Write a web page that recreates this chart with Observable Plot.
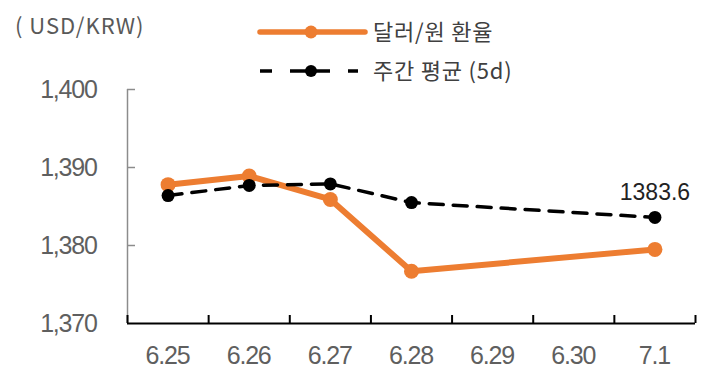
<!DOCTYPE html>
<html>
<head>
<meta charset="utf-8">
<script src="https://cdn.jsdelivr.net/npm/d3@7"></script>
<script src="https://cdn.jsdelivr.net/npm/@observablehq/plot@0.6"></script>
<style>
  html, body { margin: 0; padding: 0; background: #fff; }
  #wrap { position: relative; width: 708px; height: 381px; overflow: hidden; }
  #unit { position: absolute; left: 15px; top: 9px; font-family: "Noto Sans CJK KR", "Noto Sans", sans-serif; font-size: 22px; letter-spacing: 1px; color: #595959; white-space: pre; line-height: 30px; }
  #legend { position: absolute; left: 0; top: 0; }
  svg .tick-label text { letter-spacing: -1.2px; }
</style>
</head>
<body>
<div id="wrap"></div>
<script>
// ---- data ----
const dates = ["6.25", "6.26", "6.27", "6.28", "6.29", "6.30", "7.1"];
const tradeDates = ["6.25", "6.26", "6.27", "6.28", "7.1"];
const rate = [1387.8, 1388.9, 1385.9, 1376.7, 1379.5];      // 달러/원 환율
const avg5d = [1386.4, 1387.7, 1387.9, 1385.5, 1383.6];     // 주간 평균 (5d)
const yTicks = [1370, 1380, 1390, 1400];
const seriesNames = ["달러/원 환율", "주간 평균 (5d)"];
const unitLabel = "( USD/KRW)";
const lastLabel = "1383.6";

// ---- build ----
const orange = "#ED7D31";
const idx = d => dates.indexOf(d);
const rateData = tradeDates.map((d, i) => ({ x: idx(d), y: rate[i] }));
const avgData = tradeDates.map((d, i) => ({ x: idx(d), y: avg5d[i] }));
const boundaries = d3.range(dates.length + 1).map(i => i - 0.5);
const tickFont = "'Liberation Sans', Arial, sans-serif";

const chart = Plot.plot({
  width: 708,
  height: 381,
  marginLeft: 127,
  marginRight: 13,
  marginTop: 89,
  marginBottom: 58,
  style: { fontFamily: tickFont, background: "#fff", overflow: "visible" },
  x: { domain: [-0.5, dates.length - 0.5] },
  y: { domain: [1370, 1400] },
  marks: [
    Plot.axisX(d3.range(dates.length), {
      tickSize: 0, tickPadding: 23, fontSize: 25, fill: "#5f5f5f",
      tickFormat: i => dates[i], label: null, className: "tick-label", dx: -0.6
    }),
    Plot.axisY(yTicks, {
      tickSize: 0, tickPadding: 32, fontSize: 25, fill: "#5f5f5f",
      tickFormat: d3.format(","), label: null, className: "tick-label", dx: 1.2
    }),
    // y axis line and inward ticks
    Plot.ruleX([-0.5], { y1: 1370, y2: 1400, stroke: "#8c8c8c", strokeWidth: 1.5 }),
    Plot.ruleY(yTicks.filter(v => v > 1370), {
      y: d => d, x1: -0.5, x2: -0.5, insetRight: -8,
      stroke: "#8c8c8c", strokeWidth: 1.5
    }),
    // x axis line and inward ticks at category boundaries
    Plot.ruleY([1370], { stroke: "#000", strokeWidth: 2.2 }),
    Plot.ruleX(boundaries, {
      x: d => d, y1: 1370, y2: 1370, insetTop: -8,
      stroke: "#000", strokeWidth: 2
    }),
    // series
    Plot.line(rateData, { x: "x", y: "y", stroke: orange, strokeWidth: 6, strokeLinejoin: "round" }),
    Plot.dot(rateData, { x: "x", y: "y", r: 7.5, fill: orange }),
    Plot.line(avgData, { x: "x", y: "y", stroke: "#000", strokeWidth: 3.5, strokeDasharray: "14,10" }),
    Plot.dot(avgData, { x: "x", y: "y", r: 6.5, fill: "#000" }),
    Plot.text([avgData[avgData.length - 1]], {
      x: "x", y: "y", text: () => lastLabel, dy: -17, lineAnchor: "bottom",
      fontSize: 23, fill: "#222", fontFamily: "'Liberation Sans', Arial, sans-serif"
    })
  ]
});

const wrap = document.getElementById("wrap");
wrap.appendChild(chart);

// unit label
const unit = document.createElement("div");
unit.id = "unit";
unit.textContent = unitLabel;
wrap.appendChild(unit);

// legend
const ns = "http://www.w3.org/2000/svg";
const lg = document.createElementNS(ns, "svg");
lg.setAttribute("id", "legend");
lg.setAttribute("width", 708);
lg.setAttribute("height", 95);
const items = [
  { name: seriesNames[0], color: orange, width: 5.5, dash: null, r: 6.5, y: 32, x2: 365 },
  { name: seriesNames[1], color: "#000", width: 3.5, dash: "12,18,40,18,12", r: 6, y: 71, x2: 358 }
];
items.forEach(it => {
  const line = document.createElementNS(ns, "line");
  line.setAttribute("x1", 260); line.setAttribute("x2", it.x2);
  line.setAttribute("y1", it.y); line.setAttribute("y2", it.y);
  line.setAttribute("stroke", it.color); line.setAttribute("stroke-width", it.width);
  if (it.dash) line.setAttribute("stroke-dasharray", it.dash);
  else line.setAttribute("stroke-linecap", "round");
  lg.appendChild(line);
  const c = document.createElementNS(ns, "circle");
  c.setAttribute("cx", 311); c.setAttribute("cy", it.y); c.setAttribute("r", it.r);
  c.setAttribute("fill", it.color);
  lg.appendChild(c);
  const t = document.createElementNS(ns, "text");
  t.setAttribute("x", 373); t.setAttribute("y", it.y + 8);
  t.setAttribute("font-family", "'Noto Sans CJK KR', sans-serif");
  t.setAttribute("font-size", 22);
  t.setAttribute("letter-spacing", "0.8");
  t.setAttribute("fill", "#404040");
  t.textContent = it.name;
  lg.appendChild(t);
});
wrap.appendChild(lg);
</script>
</body>
</html>
